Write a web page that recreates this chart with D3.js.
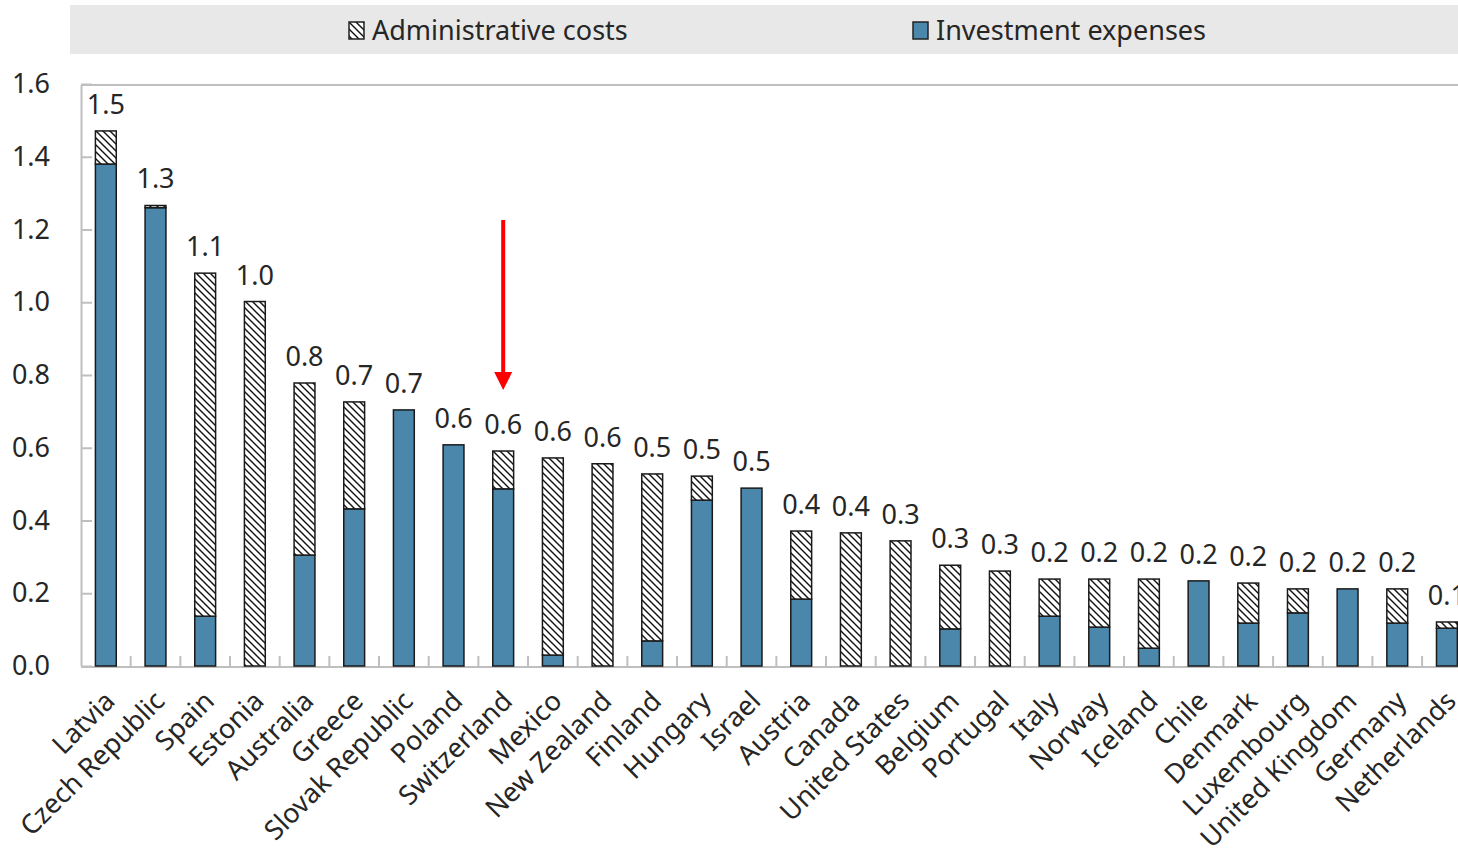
<!DOCTYPE html>
<html>
<head>
<meta charset="utf-8">
<script src="https://cdn.jsdelivr.net/npm/d3@7"></script>
<style>
  html, body { margin: 0; padding: 0; background: #ffffff; }
  svg { display: block; font-family: "Noto Sans", "Open Sans", sans-serif; }
</style>
</head>
<body>
<svg id="chart" width="1458" height="850"></svg>
<script>
// Pension fund operating costs, split into investment and administrative parts
const countries = ["Latvia", "Czech Republic", "Spain", "Estonia", "Australia", "Greece",
  "Slovak Republic", "Poland", "Switzerland", "Mexico", "New Zealand", "Finland", "Hungary",
  "Israel", "Austria", "Canada", "United States", "Belgium", "Portugal", "Italy", "Norway",
  "Iceland", "Chile", "Denmark", "Luxembourg", "United Kingdom", "Germany", "Netherlands"];

const investmentExpenses = [1.380, 1.260, 0.137, 0.000, 0.305, 0.432, 0.704, 0.608, 0.487,
  0.030, 0.000, 0.069, 0.456, 0.489, 0.184, 0.000, 0.000, 0.102, 0.000, 0.137, 0.107,
  0.049, 0.234, 0.118, 0.146, 0.212, 0.118, 0.104];

const administrativeCosts = [0.091, 0.006, 0.943, 1.002, 0.473, 0.294, 0.000, 0.000, 0.104,
  0.542, 0.556, 0.459, 0.066, 0.000, 0.187, 0.366, 0.344, 0.175, 0.261, 0.102, 0.132,
  0.190, 0.000, 0.110, 0.066, 0.000, 0.094, 0.017];

const yTicks = [0, 0.2, 0.4, 0.6, 0.8, 1.0, 1.2, 1.4, 1.6];
const legendLabels = ["Administrative costs", "Investment expenses"];
const highlighted = "Switzerland";

const rows = countries.map((c, i) => ({
  country: c,
  inv: investmentExpenses[i],
  adm: administrativeCosts[i],
  total: investmentExpenses[i] + administrativeCosts[i]
}));

const svg = d3.select("#chart");
const BLUE = "#4a87ab";
const INK = "#262626";
const AXIS = "#bfbfbf";
const FS = 27;

// hatch pattern for administrative costs
const defs = svg.append("defs");
const hatch = defs.append("pattern")
  .attr("id", "hatch")
  .attr("patternUnits", "userSpaceOnUse")
  .attr("width", 7).attr("height", 7);
hatch.append("rect").attr("width", 7).attr("height", 7).attr("fill", "#ffffff");
hatch.append("path")
  .attr("d", "M-1,-1 L8,8 M-1,6 L1,8 M6,-1 L8,1")
  .attr("stroke", "#111").attr("stroke-width", 1.4);

const step = 49.67;
const plotLeft = 81, plotTop = 84, plotBottom = 666;

const x = d3.scaleBand()
  .domain(countries)
  .range([plotLeft, plotLeft + step * countries.length])
  .paddingInner(0.58)
  .paddingOuter(0.29);

const y = d3.scaleLinear().domain([0, 1.6]).range([plotBottom, plotTop]);

// legend band
svg.append("rect")
  .attr("x", 70).attr("y", 5).attr("width", 1400).attr("height", 49)
  .attr("fill", "#e8e8e8");

const legendItems = [
  { label: legendLabels[0], fill: "url(#hatch)", x: 348 },
  { label: legendLabels[1], fill: BLUE, x: 912 }
];
const lg = svg.append("g").selectAll("g").data(legendItems).join("g")
  .attr("transform", d => `translate(${d.x},0)`);
lg.append("rect")
  .attr("x", 1).attr("y", 22).attr("width", 15).attr("height", 17)
  .attr("fill", d => d.fill)
  .attr("stroke", "#222").attr("stroke-width", 1.5);
lg.append("text")
  .attr("x", 24).attr("y", 40)
  .attr("font-size", FS).attr("fill", INK)
  .text(d => d.label);

// plot frame: top border
svg.append("line")
  .attr("x1", plotLeft).attr("x2", 1458)
  .attr("y1", y(1.6) + 1).attr("y2", y(1.6) + 1)
  .attr("stroke", AXIS).attr("stroke-width", 2);

// y axis
const yAxis = svg.append("g").attr("transform", `translate(${plotLeft},0)`)
  .call(d3.axisRight(y).tickValues(yTicks).tickSize(11).tickFormat(d3.format(".1f")));
yAxis.select(".domain").attr("stroke", AXIS).attr("stroke-width", 2)
  .attr("d", `M0.5,${plotBottom}V${y(1.6) + 1}`);
yAxis.selectAll(".tick line").attr("stroke", AXIS).attr("stroke-width", 2);
yAxis.selectAll(".tick text")
  .attr("x", -31).attr("text-anchor", "end")
  .attr("font-size", FS).attr("fill", INK)
  .attr("font-family", "Noto Sans, Open Sans, sans-serif");

// x axis with ticks between categories
const xAxis = svg.append("g");
xAxis.append("line")
  .attr("x1", plotLeft).attr("x2", 1458)
  .attr("y1", plotBottom + 1).attr("y2", plotBottom + 1)
  .attr("stroke", AXIS).attr("stroke-width", 2);
xAxis.selectAll("line.tick").data(countries.slice(1)).join("line")
  .attr("class", "tick")
  .attr("x1", d => x(d) + x.bandwidth() / 2 - x.step() / 2)
  .attr("x2", d => x(d) + x.bandwidth() / 2 - x.step() / 2)
  .attr("y1", plotBottom - 10).attr("y2", plotBottom)
  .attr("stroke", AXIS).attr("stroke-width", 2);

// stacked bars
const bars = svg.append("g").selectAll("g").data(rows).join("g");
bars.filter(d => d.inv > 0).append("rect")
  .attr("x", d => x(d.country))
  .attr("width", x.bandwidth())
  .attr("y", d => y(d.inv))
  .attr("height", d => y(0) - y(d.inv))
  .attr("fill", BLUE)
  .attr("stroke", "#1a1a1a").attr("stroke-width", 1.5);
bars.filter(d => d.adm > 0).append("rect")
  .attr("x", d => x(d.country))
  .attr("width", x.bandwidth())
  .attr("y", d => y(d.total))
  .attr("height", d => y(d.inv) - y(d.total))
  .attr("fill", "url(#hatch)")
  .attr("stroke", "#1a1a1a").attr("stroke-width", 1.5);

// total labels
bars.append("text")
  .attr("x", d => x(d.country) + x.bandwidth() / 2)
  .attr("y", d => y(d.total) - 17)
  .attr("text-anchor", "middle")
  .attr("font-size", FS).attr("fill", INK)
  .text(d => d3.format(".1f")(d.total));

// category labels
svg.append("g").selectAll("text").data(countries).join("text")
  .attr("transform", d => `translate(${x(d) + x.bandwidth() / 2 + 4},${plotBottom + 30}) rotate(-45)`)
  .attr("text-anchor", "end")
  .attr("dy", "0.35em")
  .attr("font-size", FS).attr("fill", INK)
  .text(d => d);

// red arrow pointing at the highlighted country
const hRow = rows.find(r => r.country === highlighted);
const ax = x(highlighted) + x.bandwidth() / 2;
const tipY = y(hRow.total) - 61;
const arrow = svg.append("g");
arrow.append("line")
  .attr("x1", ax).attr("x2", ax)
  .attr("y1", tipY - 170).attr("y2", tipY - 14)
  .attr("stroke", "#ff0000").attr("stroke-width", 4);
arrow.append("path")
  .attr("d", `M${ax - 9},${tipY - 18} L${ax + 9},${tipY - 18} L${ax},${tipY} Z`)
  .attr("fill", "#ff0000");
</script>
</body>
</html>
